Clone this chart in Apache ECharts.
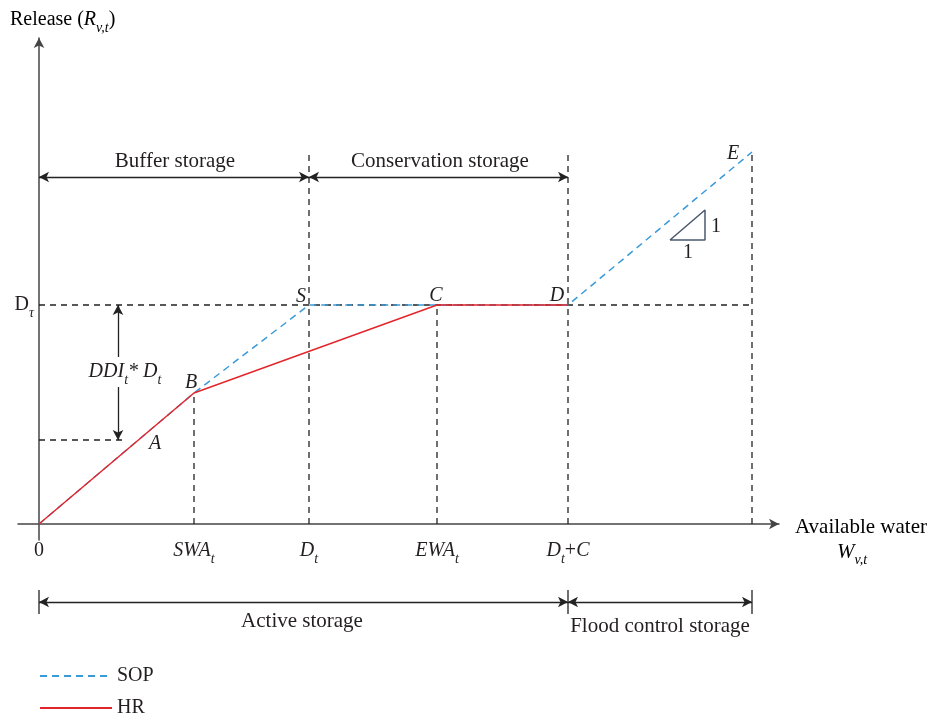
<!DOCTYPE html>
<html><head><meta charset="utf-8">
<script src="https://cdn.jsdelivr.net/npm/echarts@6/dist/echarts.min.js"></script>
<style>html,body{margin:0;padding:0;background:#fff}#c{width:928px;height:716px}</style>
</head><body><div id="c"></div>
<script>
// ---- key positions on the available-water axis ----
const tickValues = [0, 155, 270, 398, 529];
const tickLabels = ['{n|0}', '{i|SWA}{s|t}', '{i|D}{s|t}', '{i|EWA}{s|t}', '{i|D}{s|t}{n|+}{i|C}'];
const xEnd = 713;
// ---- release levels ----
const levelA = 84, levelB = 131, levelD = 219, levelE = 372;
// ---- operating rules ----
const sopX = [0, 155, 270, 529, 713];
const sopY = [0, 131, 219, 219, 372];
const hrX = [0, 155, 398, 529];
const hrY = [0, 131, 219, 219];
// ---- dashed guide lines [x1,y1,x2,y2] ----
const guideX1 = [0, 0, 155, 270, 398, 529, 713];
const guideY1 = [219, 84, 0, 0, 0, 0, 0];
const guideX2 = [713, 86, 155, 270, 398, 529, 713];
const guideY2 = [219, 84, 131, 369, 219, 374, 372];
// ---- slope triangle ----
const triX = [631, 666, 666, 631];
const triY = [284, 284, 314, 284];
// ---- point labels ----
const ptText = ['A', 'B', 'S', 'C', 'D', 'E'];
const ptX = [116, 152, 262, 397, 518, 694];
const ptY = [80, 141, 227, 228, 228, 370];
// ---- region labels ----
const regionText = ['Buffer storage', 'Conservation storage'];
const regionX = [136, 401];
const regionY = [363, 363];
const bufferArrowY = 347;
const ddiX = 79;
// bottom zone
const zoneText = ['Active storage', 'Flood control storage'];
const zoneX = [263, 621];
const zoneY = [14, 9];
const zoneArrowY = 33;
const zoneTickX = [0, 529, 713];

const FONT = '"Liberation Serif", "Times New Roman", serif';
const TXT = '#231f20';
const rich = {
  i: {fontFamily: FONT, fontStyle: 'italic', fontSize: 20, color: TXT, lineHeight: 30},
  w: {fontFamily: FONT, fontStyle: 'italic', fontSize: 21, color: TXT, lineHeight: 30},
  n: {fontFamily: FONT, fontSize: 20, color: TXT, lineHeight: 30},
  r: {fontFamily: FONT, fontSize: 21, color: TXT, lineHeight: 30},
  s: {fontFamily: FONT, fontStyle: 'italic', fontSize: 14, color: TXT, lineHeight: 14, verticalAlign: 'bottom'}
};
const dashed = {color: '#222', width: 1.3, type: [6, 5]};

const series = [];
for (let k = 0; k < guideX1.length; k++) {
  series.push({type: 'line', name: 'g' + k, data: [[guideX1[k], guideY1[k]], [guideX2[k], guideY2[k]]],
    symbol: 'none', lineStyle: dashed, z: 1, silent: true, animation: false});
}
series.push({type: 'line', name: 'SOP', data: sopX.map((x, i) => [x, sopY[i]]), symbol: 'none',
  lineStyle: {color: '#3a9ad9', width: 1.5, type: [7, 5]}, itemStyle: {color: '#3a9ad9'}, z: 3, animation: false});
series.push({type: 'line', name: 'HR', data: hrX.map((x, i) => [x, hrY[i]]), symbol: 'none',
  lineStyle: {color: '#e3262b', width: 1.5}, itemStyle: {color: '#e3262b'}, z: 4, animation: false});
series.push({type: 'line', name: 'tri', data: triX.map((x, i) => [x, triY[i]]), symbol: 'none',
  lineStyle: {color: '#4a5870', width: 1.5}, z: 3, animation: false});
// arrows in main grid
const arrowLine = {color: '#222', width: 1.3, type: 'solid'};
series.push({type: 'line', name: 'arrows', data: [], animation: false,
  markLine: {silent: true, symbol: ['arrow', 'arrow'], symbolSize: [8, 10], label: {show: false},
    lineStyle: arrowLine, animation: false,
    data: [
      [{coord: [0, bufferArrowY]}, {coord: [tickValues[2], bufferArrowY]}],
      [{coord: [tickValues[2], bufferArrowY]}, {coord: [tickValues[4], bufferArrowY]}],
      [{coord: [ddiX, levelD]}, {coord: [ddiX, levelA]}]
    ]}});
// text labels main grid
const labelItems = [];
ptText.forEach((t, i) => labelItems.push({value: [ptX[i], ptY[i]], t: '{i|' + t + '}'}));
regionText.forEach((t, i) => labelItems.push({value: [regionX[i], regionY[i]], t: '{r|' + t + '}'}));
labelItems.push({value: [677, 297], t: '{n|1}'});
labelItems.push({value: [649, 271], t: '{n|1}'});
labelItems.push({value: [ddiX + 7, 152], t: '{i|DDI}{s|t}{i|* D}{s|t}', bg: true});
const plainLabel = {show: true, position: 'inside', color: TXT, textBorderWidth: 0, textShadowBlur: 0, opacity: 1, rich: rich};
series.push({type: 'scatter', name: 'labels', symbolSize: 0, z: 10, animation: false, silent: true,
  itemStyle: {color: TXT, opacity: 1},
  data: labelItems.map(d => ({value: d.value, t: d.t, label: d.bg ? {backgroundColor: '#fff', padding: [0, 2]} : {}})),
  label: Object.assign({formatter: p => p.data.t}, plainLabel)});
// bottom grid
series.push({type: 'line', name: 'zoneArrows', xAxisIndex: 1, yAxisIndex: 1, data: [], animation: false,
  markLine: {silent: true, symbol: ['arrow', 'arrow'], symbolSize: [8, 10], label: {show: false},
    lineStyle: arrowLine, animation: false,
    data: [
      [{coord: [0, zoneArrowY]}, {coord: [tickValues[4], zoneArrowY]}],
      [{coord: [tickValues[4], zoneArrowY]}, {coord: [xEnd, zoneArrowY]}]
    ]}});
zoneTickX.forEach((x, k) => series.push({type: 'line', name: 'zt' + k, xAxisIndex: 1, yAxisIndex: 1,
  data: [[x, 21], [x, 45]], symbol: 'none', lineStyle: {color: '#222', width: 1.3}, animation: false}));
series.push({type: 'scatter', name: 'zoneLabels', xAxisIndex: 1, yAxisIndex: 1, symbolSize: 0, animation: false,
  itemStyle: {color: TXT, opacity: 1},
  data: zoneText.map((t, i) => ({value: [zoneX[i], zoneY[i]], t: '{r|' + t + '}'})),
  label: Object.assign({formatter: p => p.data.t}, plainLabel)});

const legendCommon = {orient: 'vertical', left: 39, padding: 0, itemWidth: 72, itemHeight: 14,
  itemStyle: {opacity: 0}, textStyle: {fontFamily: FONT, fontSize: 20, color: TXT}};

const option = {
  backgroundColor: '#fff',
  animation: false,
  grid: [
    {left: 18, right: 149, top: 38, bottom: 176, outerBoundsMode: 'none', containLabel: false},
    {left: 18, right: 149, top: 585, height: 50, outerBoundsMode: 'none', containLabel: false}
  ],
  xAxis: [
    {type: 'value', min: -21, max: 740, splitLine: {show: false},
      axisLine: {onZero: true, symbol: ['none', 'arrow'], symbolSize: [8, 10], lineStyle: {color: '#444', width: 1.5}},
      axisTick: {show: false},
      axisLabel: {customValues: tickValues, margin: -4, color: TXT, formatter: v => tickLabels[tickValues.indexOf(v)], rich: rich}},
    {type: 'value', gridIndex: 1, min: -21, max: 740, show: false}
  ],
  yAxis: [
    {type: 'value', min: -16, max: 486, splitLine: {show: false},
      axisLine: {onZero: true, symbol: ['none', 'arrow'], symbolSize: [8, 10], lineStyle: {color: '#444', width: 1.5}},
      axisTick: {show: false},
      axisLabel: {customValues: [levelD], margin: -16, color: TXT, formatter: () => '{n|D}{s|τ}', rich: rich}},
    {type: 'value', gridIndex: 1, min: 0, max: 50, show: false}
  ],
  legend: [
    Object.assign({data: ['SOP'], top: 666}, legendCommon),
    Object.assign({data: ['HR'], top: 698}, legendCommon)
  ],
  graphic: [
    {type: 'text', left: 10, top: 10, style: {text: '{n|Release (}{i|R}{s|v,t}{n|)}', rich: rich}},
    {type: 'text', left: 795, top: 517, style: {text: '{r|Available water}', rich: rich}},
    {type: 'text', left: 837, top: 542, style: {text: '{w|W}{s|v,t}', rich: rich}}
  ],
  series: series
};
echarts.init(document.getElementById('c'), null, {renderer: 'canvas'}).setOption(option);
</script></body></html>
